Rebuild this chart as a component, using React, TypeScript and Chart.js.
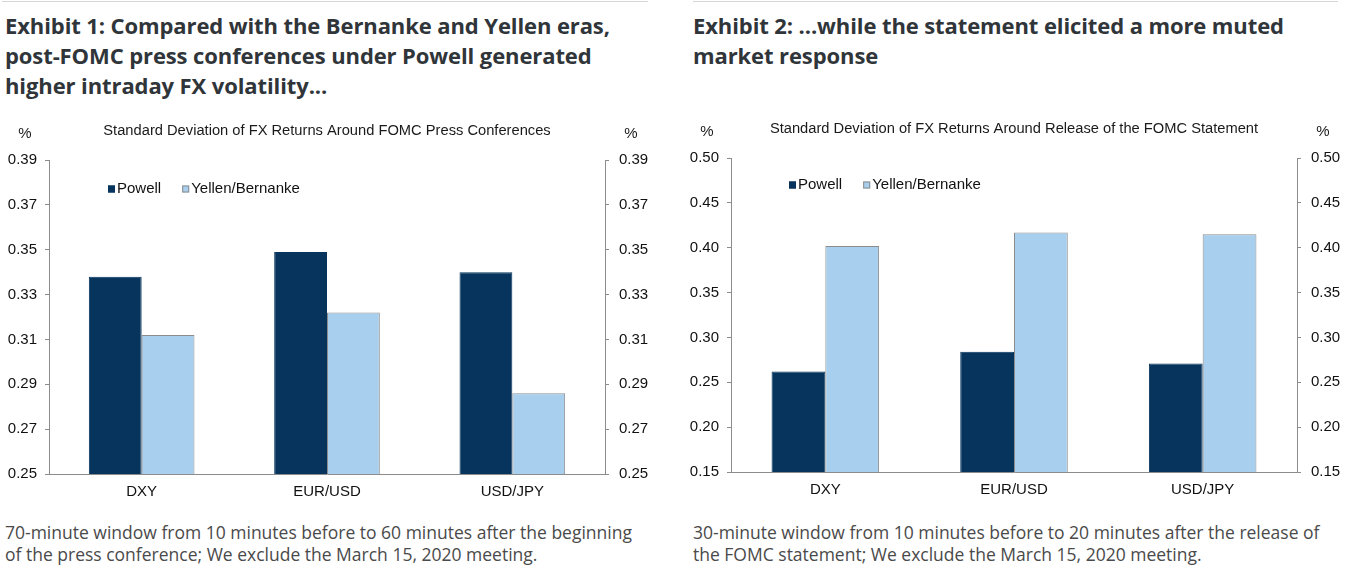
import { useEffect, useRef } from "react"
import Chart from "chart.js/auto"

const categories = ["DXY", "EUR/USD", "USD/JPY"]
const seriesNames = ["Powell", "Yellen/Bernanke"]

// Exhibit 1 - around FOMC press conferences
const pressPowell = [0.338, 0.349, 0.34]
const pressYellen = [0.312, 0.322, 0.286]
const pressTicks = [0.25, 0.27, 0.29, 0.31, 0.33, 0.35, 0.37, 0.39]

// Exhibit 2 - around release of the FOMC statement
const statementPowell = [0.262, 0.284, 0.271]
const statementYellen = [0.402, 0.417, 0.415]
const statementTicks = [0.15, 0.2, 0.25, 0.3, 0.35, 0.4, 0.45, 0.5]

const NAVY = "#06345d"
const LIGHT = "#a9cfee"
const AXIS = "#8c8c8c"
const FONT = "'Liberation Sans', Arial, sans-serif"

// chart title, "%" unit labels and the legend inside the plot
const overlay = {
  id: "overlay",
  afterDraw(chart: any, _args: any, opts: any) {
    const { ctx, chartArea } = chart
    ctx.save()
    ctx.fillStyle = "#1a1a1a"
    ctx.textBaseline = "middle"
    ctx.textAlign = "center"
    ctx.font = `14.7px ${FONT}`
    ctx.fillText(opts.title, (chartArea.left + chartArea.right) / 2, chartArea.top - 29)
    ctx.font = `15px ${FONT}`
    ctx.fillText("%", chartArea.left - 24, chartArea.top - 26)
    ctx.fillText("%", chartArea.right + 26, chartArea.top - 26)

    ctx.textAlign = "left"
    let x = chartArea.left + opts.legendX
    const y = chartArea.top + opts.legendY
    chart.data.datasets.forEach((ds: any) => {
      ctx.fillStyle = ds.backgroundColor
      ctx.fillRect(x, y - 3.5, 7, 7)
      ctx.strokeStyle = ds.borderColor
      ctx.lineWidth = 1
      ctx.strokeRect(x + 0.5, y - 3, 6, 6)
      ctx.fillStyle = "#111"
      ctx.fillText(ds.label, x + 9, y)
      x += 9 + ctx.measureText(ds.label).width + 21
    })
    ctx.restore()
  },
}

type FxProps = {
  title: string
  powell: number[]
  yellen: number[]
  ticks: number[]
  width: number
  rightAxis: number
  legendX: number
  legendY: number
}

function FxChart({ title, powell, yellen, ticks, width, rightAxis, legendX, legendY }: FxProps) {
  const chartRef = useRef<HTMLCanvasElement>(null)
  const chartInstance = useRef<Chart | null>(null)

  useEffect(() => {
    if (!chartRef.current) return
    if (chartInstance.current) chartInstance.current.destroy()
    const ctx = chartRef.current.getContext("2d")
    if (!ctx) return

    const yTicks = (scale: any) => {
      scale.ticks = ticks.map((v) => ({ value: v }))
    }
    const yCommon = {
      min: ticks[0],
      max: ticks[ticks.length - 1],
      afterBuildTicks: yTicks,
      grid: { drawOnChartArea: false, drawTicks: true, tickLength: 4, color: AXIS },
      border: { display: true, color: AXIS },
    }

    chartInstance.current = new Chart(ctx, {
      type: "bar",
      data: {
        labels: categories,
        datasets: [
          {
            label: seriesNames[0],
            data: powell,
            backgroundColor: NAVY,
            borderColor: NAVY,
            borderWidth: 1,
          },
          {
            label: seriesNames[1],
            data: yellen,
            backgroundColor: LIGHT,
            borderColor: AXIS,
            borderWidth: 1,
          },
        ],
      },
      plugins: [overlay],
      options: {
        responsive: false,
        animation: false,
        layout: { padding: { top: 50, left: 0, right: 0, bottom: 0 } },
        datasets: { bar: { barPercentage: 1, categoryPercentage: 0.57 } },
        plugins: {
          legend: { display: false },
          tooltip: { enabled: false },
          overlay: { title, legendX, legendY },
        } as any,
        scales: {
          x: {
            grid: { display: false, drawTicks: false },
            border: { display: true, color: AXIS },
            ticks: { color: "#111", padding: 9, font: { family: FONT, size: 15 } },
            afterFit: (scale: any) => {
              scale.height = 36
            },
          },
          y: {
            ...yCommon,
            position: "left",
            ticks: {
              color: "#111",
              padding: 8,
              font: { family: FONT, size: 15 },
              callback: (v: any) => Number(v).toFixed(2),
            },
            afterFit: (scale: any) => {
              scale.width = 49
            },
          },
          y2: {
            ...yCommon,
            position: "right",
            ticks: {
              color: "#111",
              padding: 10,
              font: { family: FONT, size: 15 },
              callback: (v: any) => Number(v).toFixed(2),
            },
            afterFit: (scale: any) => {
              scale.width = rightAxis
            },
          },
        } as any,
      },
    })

    return () => {
      if (chartInstance.current) {
        chartInstance.current.destroy()
        chartInstance.current = null
      }
    }
  }, [])

  return <canvas ref={chartRef} width={width} height={400} style={{ width, height: 400, display: "block" }} />
}

const titleStyle: any = {
  position: "absolute",
  top: 10,
  left: 5,
  fontFamily: "'Open Sans', sans-serif",
  fontWeight: 700,
  fontSize: 22,
  lineHeight: "30px",
  color: "#30353a",
  whiteSpace: "nowrap",
  letterSpacing: "-0.1px",
}

const noteStyle: any = {
  position: "absolute",
  top: 521,
  left: 5,
  fontFamily: "'Open Sans', sans-serif",
  fontSize: 17.5,
  lineHeight: "22px",
  color: "#4a4a4a",
  whiteSpace: "nowrap",
}

export default function App() {
  return (
    <div
      style={{
        position: "absolute",
        left: 0,
        top: 0,
        width: 1348,
        height: 572,
        background: "#fff",
        overflow: "hidden",
      }}
    >
      <div style={{ position: "absolute", left: 0, top: 0, width: 660, height: 572 }}>
        <div style={{ position: "absolute", left: 2, top: 1, width: 646, height: 1, background: "#d6d6d6" }} />
        <div style={titleStyle}>
          Exhibit 1: Compared with the Bernanke and Yellen eras,
          <br />
          post-FOMC press conferences under Powell generated
          <br />
          higher intraday FX volatility...
        </div>
        <div style={{ position: "absolute", left: 0, top: 110 }}>
          <FxChart
            title="Standard Deviation of FX Returns Around FOMC Press Conferences"
            powell={pressPowell}
            yellen={pressYellen}
            ticks={pressTicks}
            width={660}
            rightAxis={55}
            legendX={59}
            legendY={29}
          />
        </div>
        <div style={noteStyle}>
          70-minute window from 10 minutes before to 60 minutes after the beginning
          <br />
          of the press conference; We exclude the March 15, 2020 meeting.
        </div>
      </div>

      <div style={{ position: "absolute", left: 682, top: 0, width: 666, height: 572 }}>
        <div style={{ position: "absolute", left: 11, top: 1, width: 645, height: 1, background: "#d6d6d6" }} />
        <div style={{ ...titleStyle, left: 11 }}>
          Exhibit 2: ...while the statement elicited a more muted
          <br />
          market response
        </div>
        <div style={{ position: "absolute", left: 0, top: 108 }}>
          <FxChart
            title="Standard Deviation of FX Returns Around Release of the FOMC Statement"
            powell={statementPowell}
            yellen={statementYellen}
            ticks={statementTicks}
            width={666}
            rightAxis={51}
            legendX={58}
            legendY={27}
          />
        </div>
        <div style={{ ...noteStyle, left: 11 }}>
          30-minute window from 10 minutes before to 20 minutes after the release of
          <br />
          the FOMC statement; We exclude the March 15, 2020 meeting.
        </div>
      </div>
    </div>
  )
}
